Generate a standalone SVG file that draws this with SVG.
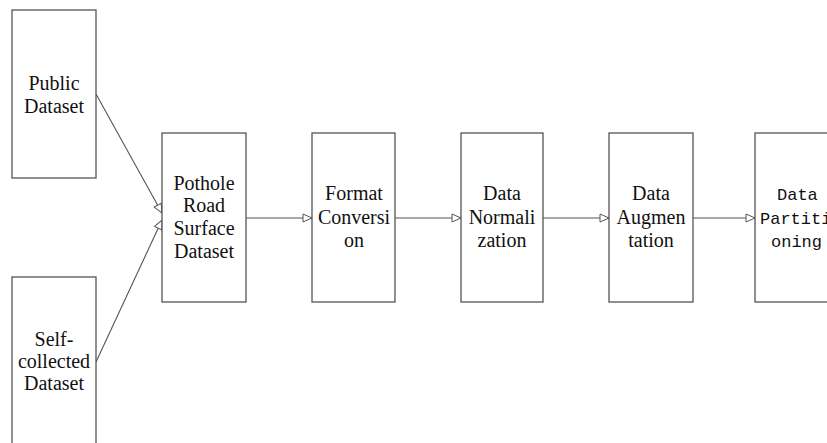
<svg xmlns="http://www.w3.org/2000/svg" width="827" height="443" viewBox="0 0 827 443">
  <defs>
    <marker id="tri" markerWidth="12" markerHeight="10" refX="10" refY="5" orient="auto" markerUnits="userSpaceOnUse">
      <path d="M1,1 L10,5 L1,9 Z" fill="#fff" stroke="#555" stroke-width="1"/>
    </marker>
    <style>
      .box { fill: #fff; stroke: #555; stroke-width: 1.3; }
      .lbl { font-family: "Liberation Serif", "Times New Roman", serif; font-size: 20px; fill: #111; text-anchor: middle; }
      .mono { font-family: "Liberation Mono", "Courier New", monospace; font-size: 17px; fill: #111; }
      .edge { stroke: #555; stroke-width: 1.1; fill: none; marker-end: url(#tri); }
    </style>
  </defs>
  <rect width="827" height="443" fill="#fff"/>

  <g id="connectors">
    <line class="edge" x1="96" y1="94" x2="162" y2="213"/>
    <line class="edge" x1="96" y1="362" x2="162" y2="220"/>
    <line class="edge" x1="246" y1="218" x2="312" y2="218"/>
    <line class="edge" x1="395" y1="218" x2="461" y2="218"/>
    <line class="edge" x1="543" y1="218" x2="609" y2="218"/>
    <line class="edge" x1="693" y1="218" x2="755" y2="218"/>
  </g>

  <g id="public">
    <rect class="box" x="12" y="10" width="84" height="168"/>
    <text class="lbl" x="54" y="90">Public</text>
    <text class="lbl" x="54" y="113">Dataset</text>
  </g>

  <g id="self-collected">
    <rect class="box" x="12" y="277" width="84" height="180"/>
    <text class="lbl" x="54" y="346">Self-</text>
    <text class="lbl" x="54" y="368">collected</text>
    <text class="lbl" x="54" y="390">Dataset</text>
  </g>

  <g id="pothole">
    <rect class="box" x="162" y="133" width="84" height="169"/>
    <text class="lbl" x="204" y="190">Pothole</text>
    <text class="lbl" x="204" y="212">Road</text>
    <text class="lbl" x="204" y="235">Surface</text>
    <text class="lbl" x="204" y="258">Dataset</text>
  </g>

  <g id="format">
    <rect class="box" x="312" y="133" width="83" height="169"/>
    <text class="lbl" x="354" y="200">Format</text>
    <text class="lbl" x="354" y="224">Conversi</text>
    <text class="lbl" x="354" y="247">on</text>
  </g>

  <g id="normalization">
    <rect class="box" x="461" y="133" width="82" height="169"/>
    <text class="lbl" x="502" y="200">Data</text>
    <text class="lbl" x="502" y="224">Normali</text>
    <text class="lbl" x="502" y="247">zation</text>
  </g>

  <g id="augmentation">
    <rect class="box" x="609" y="133" width="84" height="169"/>
    <text class="lbl" x="651" y="200">Data</text>
    <text class="lbl" x="651" y="224">Augmen</text>
    <text class="lbl" x="651" y="247">tation</text>
  </g>

  <!-- last stage runs past the right edge of the page -->
  <g id="partitioning">
    <rect class="box" x="755" y="133" width="90" height="169"/>
    <text class="mono" x="777" y="200">Data</text>
    <text class="mono" x="760" y="224">Partiti</text>
    <text class="mono" x="771" y="247">oning</text>
  </g>
</svg>
